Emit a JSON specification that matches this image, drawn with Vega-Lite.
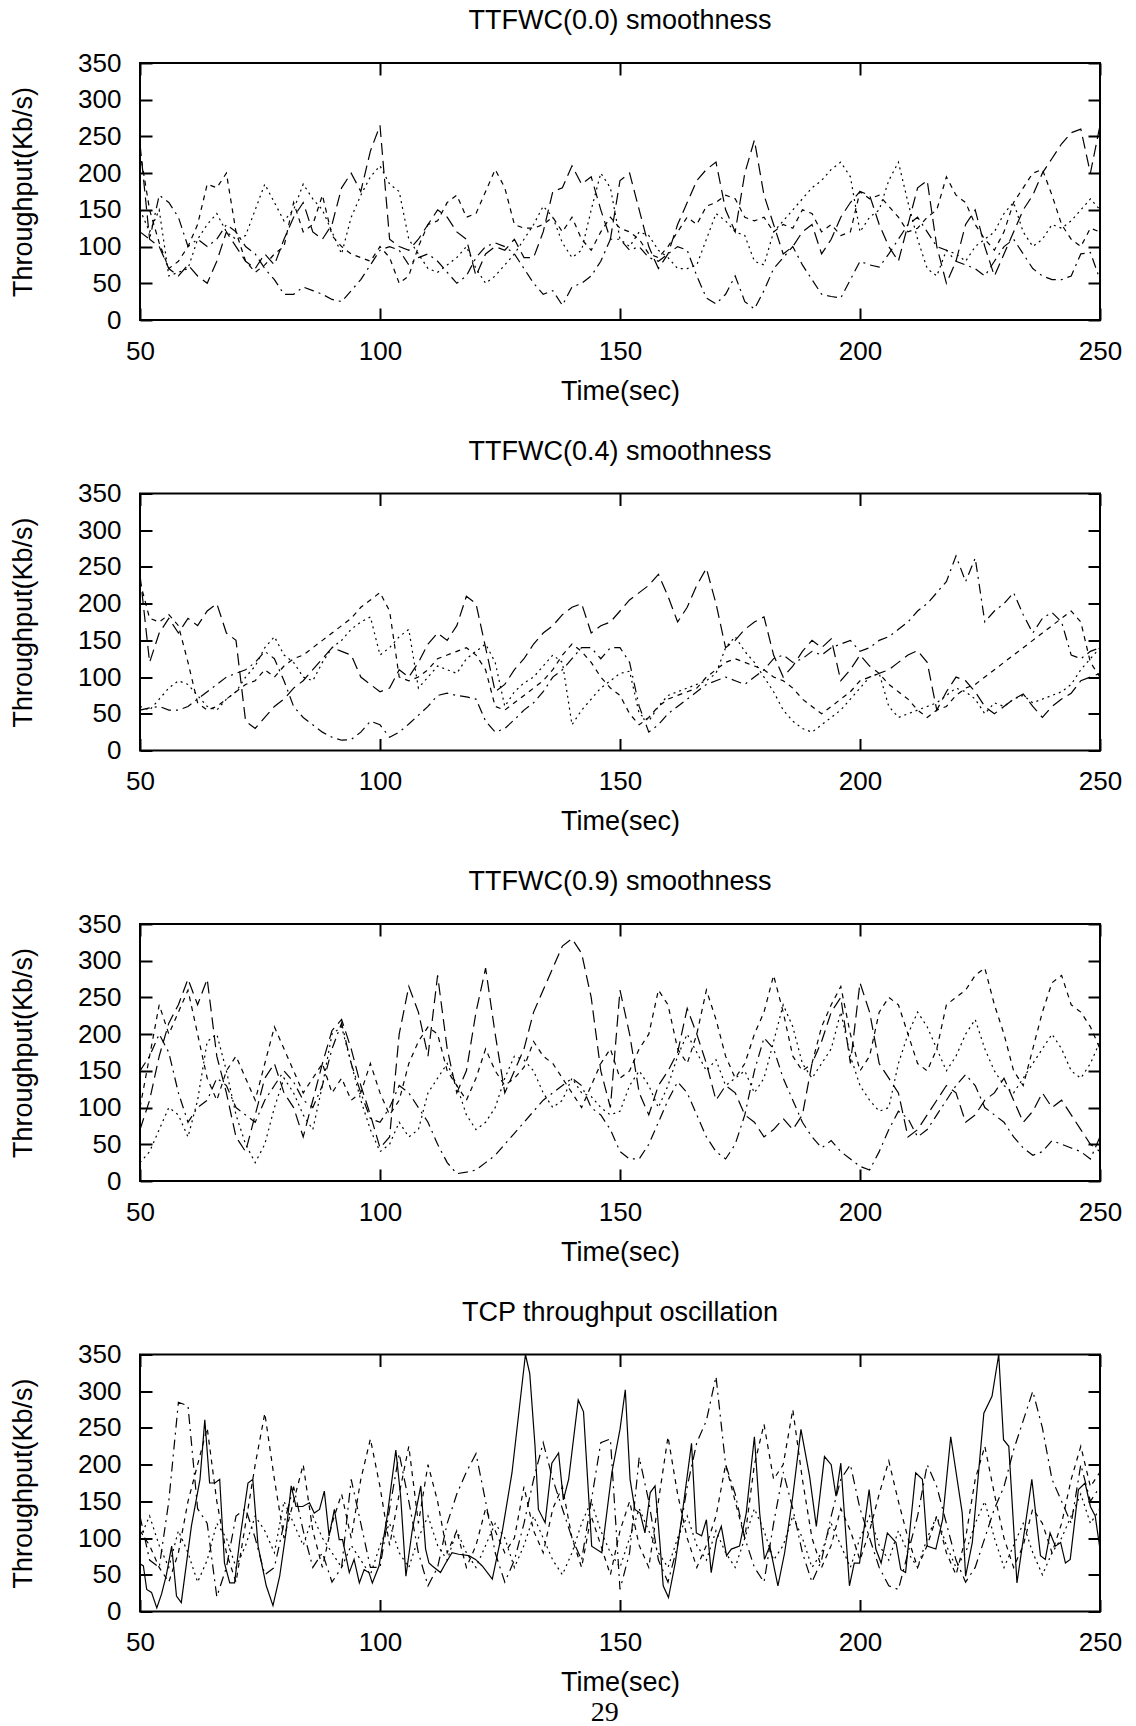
{
"$schema": "https://vega.github.io/schema/vega-lite/v6.json",
"padding": {"left": 8, "top": 6, "right": 0, "bottom": 12},
"background": "white",
"bounds": "flush",
"spacing": 173.5,
"title": {"text": "29", "orient": "bottom", "anchor": "middle", "font": "Liberation Serif", "fontSize": 28, "fontWeight": "normal", "baseline": "top", "offset": 2, "dx": 39, "color": "black"},
"config": {
  "view": {"stroke": "black", "strokeWidth": 2},
  "line": {"stroke": "black", "strokeWidth": 1.2},
  "title": {"font": "Liberation Sans", "fontSize": 27, "fontWeight": "normal", "color": "black", "anchor": "middle", "baseline": "alphabetic", "offset": 15},
  "axis": {"domain": false, "grid": false, "ticks": true, "tickSize": -12, "tickWidth": 2, "tickColor": "black", "labelFont": "Liberation Sans", "labelFontSize": 26, "labelColor": "black", "labelFlush": false, "titleFont": "Liberation Sans", "titleFontSize": 27, "titleFontWeight": "normal", "titleColor": "black"},
  "axisBottom": {"labelPadding": 30, "titlePadding": 14},
  "axisLeft": {"labelPadding": 31, "titlePadding": 40}
},
"datasets": {
"p1": [
{"t":50,"a":240,"b":150,"c":120,"d":230},{"t":52,"a":110,"b":120,"c":110,"d":150},{"t":54,"a":100,"b":150,"c":170,"d":105},{"t":56,"a":70,"b":60,"c":160,"d":70},{"t":58,"a":60,"b":65,"c":140,"d":80},
{"t":60,"a":75,"b":70,"c":100,"d":100},{"t":62,"a":60,"b":110,"c":110,"d":130},{"t":64,"a":50,"b":130,"c":100,"d":185},{"t":66,"a":80,"b":145,"c":110,"d":180},{"t":68,"a":120,"b":120,"c":130,"d":200},
{"t":70,"a":100,"b":110,"c":120,"d":120},{"t":72,"a":80,"b":115,"c":100,"d":80},{"t":74,"a":70,"b":150,"c":90,"d":65},{"t":76,"a":90,"b":185,"c":70,"d":75},{"t":78,"a":75,"b":160,"c":55,"d":90},
{"t":80,"a":110,"b":135,"c":35,"d":100},{"t":82,"a":140,"b":150,"c":35,"d":160},{"t":84,"a":160,"b":185,"c":45,"d":120},{"t":86,"a":120,"b":165,"c":40,"d":130},{"t":88,"a":110,"b":150,"c":35,"d":170},
{"t":90,"a":130,"b":120,"c":28,"d":115},{"t":92,"a":180,"b":90,"c":25,"d":100},{"t":94,"a":200,"b":140,"c":40,"d":90},{"t":96,"a":175,"b":170,"c":55,"d":85},{"t":98,"a":230,"b":195,"c":75,"d":80},
{"t":100,"a":265,"b":210,"c":95,"d":100},{"t":102,"a":110,"b":185,"c":100,"d":85},{"t":104,"a":100,"b":175,"c":95,"d":50},{"t":106,"a":95,"b":110,"c":75,"d":60},{"t":108,"a":110,"b":90,"c":85,"d":100},
{"t":110,"a":130,"b":70,"c":90,"d":130},{"t":112,"a":150,"b":65,"c":80,"d":135},{"t":114,"a":140,"b":75,"c":65,"d":160},{"t":116,"a":120,"b":85,"c":50,"d":170},{"t":118,"a":110,"b":100,"c":60,"d":140},
{"t":120,"a":60,"b":70,"c":85,"d":145},{"t":122,"a":90,"b":50,"c":100,"d":175},{"t":124,"a":100,"b":60,"c":105,"d":205},{"t":126,"a":95,"b":75,"c":100,"d":180},{"t":128,"a":110,"b":90,"c":90,"d":130},
{"t":130,"a":85,"b":110,"c":70,"d":125},{"t":132,"a":85,"b":130,"c":50,"d":125},{"t":134,"a":120,"b":155,"c":35,"d":130},{"t":136,"a":175,"b":140,"c":40,"d":140},{"t":138,"a":180,"b":105,"c":20,"d":120},
{"t":140,"a":210,"b":85,"c":45,"d":140},{"t":142,"a":185,"b":95,"c":50,"d":110},{"t":144,"a":195,"b":150,"c":60,"d":95},{"t":146,"a":150,"b":200,"c":80,"d":120},{"t":148,"a":110,"b":180,"c":110,"d":140},
{"t":150,"a":190,"b":110,"c":110,"d":125},{"t":152,"a":200,"b":100,"c":95,"d":120},{"t":154,"a":150,"b":120,"c":100,"d":110},{"t":156,"a":100,"b":115,"c":85,"d":90},{"t":158,"a":70,"b":95,"c":80,"d":85},
{"t":160,"a":90,"b":85,"c":90,"d":100},{"t":162,"a":130,"b":70,"c":100,"d":120},{"t":164,"a":160,"b":70,"c":95,"d":140},{"t":166,"a":190,"b":75,"c":60,"d":130},{"t":168,"a":205,"b":110,"c":30,"d":155},
{"t":170,"a":215,"b":145,"c":22,"d":160},{"t":172,"a":150,"b":135,"c":35,"d":170},{"t":174,"a":120,"b":120,"c":60,"d":165},{"t":176,"a":200,"b":115,"c":25,"d":140},{"t":178,"a":245,"b":80,"c":15,"d":135},
{"t":180,"a":170,"b":75,"c":40,"d":140},{"t":182,"a":130,"b":120,"c":70,"d":120},{"t":184,"a":90,"b":135,"c":85,"d":130},{"t":186,"a":100,"b":150,"c":100,"d":125},{"t":188,"a":120,"b":165,"c":75,"d":150},
{"t":190,"a":130,"b":180,"c":55,"d":145},{"t":192,"a":90,"b":190,"c":35,"d":120},{"t":194,"a":110,"b":205,"c":32,"d":130},{"t":196,"a":140,"b":215,"c":30,"d":115},{"t":198,"a":160,"b":195,"c":55,"d":120},
{"t":200,"a":175,"b":120,"c":80,"d":175},{"t":202,"a":170,"b":140,"c":75,"d":165},{"t":204,"a":130,"b":150,"c":72,"d":170},{"t":206,"a":100,"b":190,"c":90,"d":155},{"t":208,"a":80,"b":215,"c":110,"d":140},
{"t":210,"a":130,"b":160,"c":130,"d":120},{"t":212,"a":180,"b":110,"c":140,"d":125},{"t":214,"a":190,"b":70,"c":120,"d":140},{"t":216,"a":100,"b":60,"c":100,"d":150},{"t":218,"a":50,"b":95,"c":95,"d":195},
{"t":220,"a":80,"b":90,"c":80,"d":170},{"t":222,"a":130,"b":80,"c":75,"d":160},{"t":224,"a":150,"b":100,"c":70,"d":130},{"t":226,"a":100,"b":110,"c":60,"d":110},{"t":228,"a":60,"b":120,"c":80,"d":95},
{"t":230,"a":90,"b":145,"c":100,"d":120},{"t":232,"a":120,"b":160,"c":110,"d":160},{"t":234,"a":150,"b":120,"c":90,"d":180},{"t":236,"a":170,"b":100,"c":70,"d":200},{"t":238,"a":200,"b":110,"c":60,"d":205},
{"t":240,"a":220,"b":130,"c":55,"d":170},{"t":242,"a":240,"b":125,"c":55,"d":130},{"t":244,"a":255,"b":135,"c":60,"d":110},{"t":246,"a":260,"b":150,"c":90,"d":100},{"t":248,"a":200,"b":165,"c":92,"d":125},
{"t":250,"a":265,"b":150,"c":55,"d":120}
],
"p2": [
{"t":50,"a":240,"b":55,"c":60,"d":230},{"t":52,"a":120,"b":58,"c":55,"d":180},{"t":54,"a":160,"b":60,"c":70,"d":175},{"t":56,"a":180,"b":55,"c":85,"d":185},{"t":58,"a":160,"b":55,"c":95,"d":170},
{"t":60,"a":180,"b":60,"c":90,"d":120},{"t":62,"a":170,"b":70,"c":75,"d":65},{"t":64,"a":190,"b":80,"c":60,"d":55},{"t":66,"a":200,"b":90,"c":55,"d":60},{"t":68,"a":160,"b":100,"c":70,"d":70},
{"t":70,"a":150,"b":105,"c":80,"d":80},{"t":72,"a":40,"b":110,"c":100,"d":90},{"t":74,"a":30,"b":120,"c":115,"d":95},{"t":76,"a":45,"b":135,"c":140,"d":110},{"t":78,"a":60,"b":125,"c":155,"d":100},
{"t":80,"a":70,"b":95,"c":130,"d":115},{"t":82,"a":85,"b":60,"c":120,"d":125},{"t":84,"a":95,"b":45,"c":100,"d":130},{"t":86,"a":110,"b":35,"c":95,"d":140},{"t":88,"a":125,"b":25,"c":120,"d":150},
{"t":90,"a":140,"b":18,"c":140,"d":160},{"t":92,"a":135,"b":14,"c":150,"d":170},{"t":94,"a":130,"b":15,"c":165,"d":180},{"t":96,"a":100,"b":25,"c":175,"d":195},{"t":98,"a":90,"b":40,"c":182,"d":205},
{"t":100,"a":80,"b":35,"c":130,"d":215},{"t":102,"a":85,"b":18,"c":140,"d":190},{"t":104,"a":110,"b":25,"c":155,"d":100},{"t":106,"a":100,"b":36,"c":165,"d":95},{"t":108,"a":120,"b":48,"c":85,"d":100},
{"t":110,"a":145,"b":60,"c":100,"d":110},{"t":112,"a":160,"b":75,"c":115,"d":125},{"t":114,"a":150,"b":78,"c":110,"d":130},{"t":116,"a":170,"b":75,"c":105,"d":135},{"t":118,"a":210,"b":73,"c":125,"d":140},
{"t":120,"a":200,"b":70,"c":135,"d":130},{"t":122,"a":140,"b":40,"c":145,"d":110},{"t":124,"a":80,"b":25,"c":120,"d":60},{"t":126,"a":90,"b":30,"c":60,"d":55},{"t":128,"a":110,"b":42,"c":80,"d":65},
{"t":130,"a":125,"b":55,"c":92,"d":75},{"t":132,"a":145,"b":65,"c":100,"d":85},{"t":134,"a":160,"b":80,"c":115,"d":95},{"t":136,"a":170,"b":100,"c":130,"d":110},{"t":138,"a":185,"b":110,"c":120,"d":130},
{"t":140,"a":195,"b":125,"c":35,"d":145},{"t":142,"a":200,"b":140,"c":55,"d":135},{"t":144,"a":160,"b":140,"c":70,"d":120},{"t":146,"a":170,"b":125,"c":85,"d":100},{"t":148,"a":175,"b":140,"c":95,"d":85},
{"t":150,"a":190,"b":140,"c":105,"d":75},{"t":152,"a":205,"b":120,"c":108,"d":50},{"t":154,"a":215,"b":60,"c":50,"d":35},{"t":156,"a":225,"b":25,"c":40,"d":45},{"t":158,"a":240,"b":35,"c":60,"d":60},
{"t":160,"a":210,"b":50,"c":75,"d":70},{"t":162,"a":175,"b":60,"c":80,"d":75},{"t":164,"a":195,"b":70,"c":85,"d":80},{"t":166,"a":225,"b":80,"c":90,"d":85},{"t":168,"a":248,"b":90,"c":95,"d":100},
{"t":170,"a":200,"b":95,"c":105,"d":110},{"t":172,"a":140,"b":100,"c":140,"d":120},{"t":174,"a":150,"b":95,"c":155,"d":125},{"t":176,"a":165,"b":90,"c":135,"d":120},{"t":178,"a":175,"b":100,"c":120,"d":115},
{"t":180,"a":182,"b":110,"c":100,"d":110},{"t":182,"a":130,"b":125,"c":80,"d":100},{"t":184,"a":100,"b":130,"c":55,"d":95},{"t":186,"a":115,"b":120,"c":40,"d":85},{"t":188,"a":135,"b":125,"c":30,"d":70},
{"t":190,"a":150,"b":135,"c":25,"d":60},{"t":192,"a":140,"b":130,"c":35,"d":50},{"t":194,"a":152,"b":140,"c":45,"d":60},{"t":196,"a":95,"b":145,"c":55,"d":70},{"t":198,"a":110,"b":150,"c":70,"d":80},
{"t":200,"a":130,"b":135,"c":85,"d":95},{"t":202,"a":115,"b":140,"c":100,"d":100},{"t":204,"a":105,"b":150,"c":105,"d":105},{"t":206,"a":110,"b":155,"c":60,"d":90},{"t":208,"a":120,"b":165,"c":45,"d":80},
{"t":210,"a":130,"b":175,"c":50,"d":70},{"t":212,"a":136,"b":190,"c":55,"d":55},{"t":214,"a":120,"b":200,"c":60,"d":45},{"t":216,"a":55,"b":215,"c":65,"d":55},{"t":218,"a":80,"b":230,"c":75,"d":60},
{"t":220,"a":100,"b":265,"c":85,"d":75},{"t":222,"a":95,"b":230,"c":80,"d":85},{"t":224,"a":80,"b":262,"c":70,"d":90},{"t":226,"a":60,"b":175,"c":50,"d":100},{"t":228,"a":50,"b":190,"c":65,"d":110},
{"t":230,"a":60,"b":200,"c":60,"d":120},{"t":232,"a":70,"b":215,"c":70,"d":130},{"t":234,"a":77,"b":185,"c":75,"d":140},{"t":236,"a":60,"b":160,"c":65,"d":150},{"t":238,"a":45,"b":180,"c":70,"d":160},
{"t":240,"a":60,"b":188,"c":75,"d":170},{"t":242,"a":70,"b":175,"c":80,"d":180},{"t":244,"a":78,"b":130,"c":90,"d":190},{"t":246,"a":95,"b":125,"c":110,"d":175},{"t":248,"a":100,"b":135,"c":125,"d":120},
{"t":250,"a":105,"b":140,"c":140,"d":100}
],
"p3": [
{"t":50,"a":70,"b":150,"c":25,"d":100},{"t":52,"a":110,"b":170,"c":40,"d":170},{"t":54,"a":170,"b":200,"c":70,"d":240},{"t":56,"a":215,"b":175,"c":100,"d":200},{"t":58,"a":240,"b":120,"c":90,"d":230},
{"t":60,"a":275,"b":80,"c":60,"d":260},{"t":62,"a":240,"b":100,"c":110,"d":200},{"t":64,"a":275,"b":110,"c":190,"d":140},{"t":66,"a":170,"b":140,"c":200,"d":110},{"t":68,"a":120,"b":130,"c":150,"d":150},
{"t":70,"a":60,"b":100,"c":90,"d":170},{"t":72,"a":40,"b":90,"c":50,"d":140},{"t":74,"a":90,"b":80,"c":25,"d":110},{"t":76,"a":140,"b":110,"c":50,"d":160},{"t":78,"a":160,"b":130,"c":100,"d":210},
{"t":80,"a":120,"b":150,"c":140,"d":180},{"t":82,"a":100,"b":135,"c":120,"d":150},{"t":84,"a":60,"b":110,"c":90,"d":120},{"t":86,"a":110,"b":100,"c":70,"d":140},{"t":88,"a":160,"b":130,"c":130,"d":160},
{"t":90,"a":205,"b":180,"c":200,"d":120},{"t":92,"a":220,"b":215,"c":210,"d":140},{"t":94,"a":180,"b":160,"c":160,"d":110},{"t":96,"a":130,"b":120,"c":110,"d":120},{"t":98,"a":90,"b":85,"c":70,"d":160},
{"t":100,"a":45,"b":80,"c":40,"d":120},{"t":102,"a":60,"b":100,"c":50,"d":90},{"t":104,"a":200,"b":130,"c":80,"d":110},{"t":106,"a":265,"b":120,"c":60,"d":160},{"t":108,"a":230,"b":100,"c":70,"d":190},
{"t":110,"a":170,"b":80,"c":120,"d":210},{"t":112,"a":280,"b":50,"c":140,"d":200},{"t":114,"a":180,"b":25,"c":160,"d":150},{"t":116,"a":120,"b":10,"c":130,"d":130},{"t":118,"a":150,"b":12,"c":90,"d":110},
{"t":120,"a":230,"b":15,"c":70,"d":140},{"t":122,"a":290,"b":25,"c":80,"d":180},{"t":124,"a":200,"b":35,"c":100,"d":150},{"t":126,"a":120,"b":50,"c":140,"d":130},{"t":128,"a":150,"b":65,"c":170,"d":140},
{"t":130,"a":180,"b":80,"c":165,"d":155},{"t":132,"a":230,"b":95,"c":150,"d":190},{"t":134,"a":260,"b":110,"c":120,"d":170},{"t":136,"a":290,"b":120,"c":100,"d":160},{"t":138,"a":320,"b":130,"c":110,"d":140},
{"t":140,"a":330,"b":140,"c":140,"d":120},{"t":142,"a":310,"b":130,"c":120,"d":100},{"t":144,"a":250,"b":100,"c":115,"d":130},{"t":146,"a":150,"b":90,"c":100,"d":160},{"t":148,"a":100,"b":70,"c":90,"d":180},
{"t":150,"a":260,"b":40,"c":95,"d":140},{"t":152,"a":200,"b":30,"c":130,"d":150},{"t":154,"a":120,"b":30,"c":150,"d":180},{"t":156,"a":90,"b":50,"c":130,"d":200},{"t":158,"a":130,"b":80,"c":100,"d":260},
{"t":160,"a":150,"b":110,"c":130,"d":240},{"t":162,"a":175,"b":135,"c":170,"d":180},{"t":164,"a":235,"b":120,"c":200,"d":160},{"t":166,"a":200,"b":90,"c":175,"d":200},{"t":168,"a":160,"b":60,"c":150,"d":260},
{"t":170,"a":110,"b":40,"c":165,"d":220},{"t":172,"a":130,"b":30,"c":130,"d":170},{"t":174,"a":120,"b":50,"c":140,"d":140},{"t":176,"a":90,"b":90,"c":150,"d":160},{"t":178,"a":80,"b":150,"c":120,"d":200},
{"t":180,"a":60,"b":195,"c":140,"d":230},{"t":182,"a":70,"b":180,"c":190,"d":280},{"t":184,"a":85,"b":140,"c":240,"d":230},{"t":186,"a":70,"b":110,"c":210,"d":170},{"t":188,"a":90,"b":80,"c":160,"d":150},
{"t":190,"a":160,"b":60,"c":140,"d":160},{"t":192,"a":190,"b":45,"c":160,"d":210},{"t":194,"a":230,"b":55,"c":180,"d":240},{"t":196,"a":250,"b":40,"c":230,"d":265},{"t":198,"a":160,"b":30,"c":170,"d":200},
{"t":200,"a":270,"b":20,"c":130,"d":150},{"t":202,"a":230,"b":15,"c":110,"d":170},{"t":204,"a":160,"b":40,"c":95,"d":230},{"t":206,"a":140,"b":70,"c":100,"d":250},{"t":208,"a":120,"b":95,"c":160,"d":240},
{"t":210,"a":60,"b":85,"c":200,"d":200},{"t":212,"a":70,"b":60,"c":230,"d":160},{"t":214,"a":90,"b":70,"c":210,"d":150},{"t":216,"a":110,"b":90,"c":180,"d":180},{"t":218,"a":130,"b":110,"c":150,"d":240},
{"t":220,"a":120,"b":130,"c":170,"d":250},{"t":222,"a":80,"b":145,"c":200,"d":260},{"t":224,"a":90,"b":130,"c":220,"d":280},{"t":226,"a":110,"b":100,"c":180,"d":290},{"t":228,"a":120,"b":90,"c":150,"d":240},
{"t":230,"a":140,"b":80,"c":130,"d":200},{"t":232,"a":110,"b":60,"c":120,"d":150},{"t":234,"a":80,"b":45,"c":140,"d":130},{"t":236,"a":95,"b":35,"c":160,"d":180},{"t":238,"a":120,"b":40,"c":180,"d":230},
{"t":240,"a":100,"b":55,"c":200,"d":270},{"t":242,"a":110,"b":50,"c":180,"d":280},{"t":244,"a":90,"b":45,"c":150,"d":240},{"t":246,"a":70,"b":40,"c":140,"d":230},{"t":248,"a":50,"b":30,"c":160,"d":210},
{"t":250,"a":40,"b":60,"c":190,"d":180}
],
"p4": [
{"t":50,"e":130,"f":110,"g":100},{"t":52,"e":70,"f":90,"g":130},{"t":54,"e":60,"f":60,"g":90},{"t":56,"e":150,"f":40,"g":60},{"t":58,"e":285,"f":80,"g":110},
{"t":60,"e":280,"f":150,"g":80},{"t":62,"e":140,"f":200,"g":40},{"t":64,"e":120,"f":250,"g":70},{"t":66,"e":20,"f":150,"g":120},{"t":68,"e":60,"f":80,"g":100},
{"t":70,"e":130,"f":40,"g":60},{"t":72,"e":140,"f":120,"g":90},{"t":74,"e":100,"f":200,"g":130},{"t":76,"e":50,"f":270,"g":110},{"t":78,"e":60,"f":180,"g":80},
{"t":80,"e":120,"f":100,"g":150},{"t":82,"e":170,"f":150,"g":120},{"t":84,"e":110,"f":200,"g":90},{"t":86,"e":60,"f":110,"g":130},{"t":88,"e":80,"f":60,"g":100},
{"t":90,"e":40,"f":120,"g":80},{"t":92,"e":60,"f":160,"g":60},{"t":94,"e":180,"f":100,"g":90},{"t":96,"e":120,"f":180,"g":70},{"t":98,"e":60,"f":235,"g":50},
{"t":100,"e":60,"f":170,"g":90},{"t":102,"e":140,"f":90,"g":120},{"t":104,"e":215,"f":160,"g":80},{"t":106,"e":150,"f":225,"g":60},{"t":108,"e":80,"f":120,"g":100},
{"t":110,"e":35,"f":200,"g":130},{"t":112,"e":60,"f":150,"g":90},{"t":114,"e":120,"f":80,"g":70},{"t":116,"e":160,"f":110,"g":110},{"t":118,"e":190,"f":60,"g":80},
{"t":120,"e":215,"f":90,"g":60},{"t":122,"e":150,"f":140,"g":90},{"t":124,"e":80,"f":110,"g":120},{"t":126,"e":40,"f":80,"g":100},{"t":128,"e":70,"f":100,"g":60},
{"t":130,"e":120,"f":170,"g":90},{"t":132,"e":180,"f":110,"g":130},{"t":134,"e":230,"f":80,"g":100},{"t":136,"e":180,"f":140,"g":70},{"t":138,"e":140,"f":170,"g":50},
{"t":140,"e":100,"f":100,"g":80},{"t":142,"e":70,"f":60,"g":120},{"t":144,"e":150,"f":130,"g":150},{"t":146,"e":230,"f":90,"g":110},{"t":148,"e":235,"f":50,"g":80},
{"t":150,"e":30,"f":110,"g":60},{"t":152,"e":80,"f":150,"g":100},{"t":154,"e":210,"f":90,"g":140},{"t":156,"e":150,"f":60,"g":110},{"t":158,"e":70,"f":150,"g":80},
{"t":160,"e":40,"f":238,"g":60},{"t":162,"e":90,"f":160,"g":100},{"t":164,"e":170,"f":100,"g":130},{"t":166,"e":230,"f":60,"g":90},{"t":168,"e":260,"f":90,"g":70},
{"t":170,"e":320,"f":130,"g":110},{"t":172,"e":200,"f":200,"g":80},{"t":174,"e":160,"f":150,"g":60},{"t":176,"e":100,"f":100,"g":100},{"t":178,"e":60,"f":200,"g":140},
{"t":180,"e":40,"f":255,"g":110},{"t":182,"e":120,"f":180,"g":70},{"t":184,"e":190,"f":200,"g":90},{"t":186,"e":140,"f":275,"g":130},{"t":188,"e":80,"f":180,"g":100},
{"t":190,"e":40,"f":100,"g":60},{"t":192,"e":70,"f":60,"g":80},{"t":194,"e":130,"f":90,"g":120},{"t":196,"e":180,"f":140,"g":90},{"t":198,"e":200,"f":110,"g":60},
{"t":200,"e":140,"f":70,"g":100},{"t":202,"e":100,"f":110,"g":130},{"t":204,"e":60,"f":160,"g":90},{"t":206,"e":35,"f":205,"g":70},{"t":208,"e":30,"f":150,"g":110},
{"t":210,"e":80,"f":100,"g":80},{"t":212,"e":130,"f":60,"g":60},{"t":214,"e":200,"f":90,"g":100},{"t":216,"e":170,"f":130,"g":130},{"t":218,"e":120,"f":80,"g":90},
{"t":220,"e":70,"f":50,"g":60},{"t":222,"e":40,"f":100,"g":80},{"t":224,"e":60,"f":180,"g":120},{"t":226,"e":100,"f":225,"g":150},{"t":228,"e":140,"f":160,"g":100},
{"t":230,"e":170,"f":100,"g":60},{"t":232,"e":220,"f":60,"g":90},{"t":234,"e":260,"f":90,"g":120},{"t":236,"e":300,"f":140,"g":80},{"t":238,"e":250,"f":120,"g":50},
{"t":240,"e":180,"f":80,"g":80},{"t":242,"e":150,"f":120,"g":100},{"t":244,"e":120,"f":180,"g":130},{"t":246,"e":200,"f":225,"g":160},{"t":248,"e":150,"f":170,"g":120},
{"t":250,"e":170,"f":190,"g":140}
],
"p4s": [
{"t":50,"v":65},{"t":50.7,"v":62},{"t":51.4,"v":30},{"t":52.4,"v":26},{"t":53.5,"v":5},{"t":54.5,"v":24},{"t":55.5,"v":50},{"t":56.6,"v":89},{"t":57.6,"v":21},{"t":58.6,"v":12},
{"t":60.7,"v":116},{"t":62.5,"v":180},{"t":63.5,"v":261},{"t":64.5,"v":175},{"t":65.6,"v":175},{"t":66.6,"v":180},{"t":67.6,"v":66},{"t":68.7,"v":39},{"t":69.7,"v":39},{"t":70.8,"v":98},
{"t":72.5,"v":175},{"t":73.5,"v":180},{"t":74.6,"v":89},{"t":76.3,"v":35},{"t":77.7,"v":8},{"t":79.1,"v":48},{"t":80.4,"v":107},{"t":81.5,"v":171},{"t":82.5,"v":143},{"t":83.9,"v":143},
{"t":85.3,"v":148},{"t":86.3,"v":134},{"t":87.4,"v":139},{"t":88.4,"v":164},{"t":89.4,"v":103},{"t":90.5,"v":139},{"t":91.5,"v":98},{"t":92.2,"v":98},{"t":93.6,"v":53},{"t":94.6,"v":71},
{"t":95.7,"v":39},{"t":96.7,"v":57},{"t":97.7,"v":53},{"t":98.4,"v":39},{"t":99.8,"v":62},{"t":101.5,"v":130},{"t":103.3,"v":220},{"t":104.3,"v":157},{"t":105.4,"v":48},{"t":106.7,"v":110},
{"t":108.5,"v":171},{"t":109.5,"v":85},{"t":110.2,"v":66},{"t":110.9,"v":62},{"t":112.6,"v":53},{"t":113.7,"v":66},{"t":115,"v":80},{"t":116.4,"v":78},{"t":118.5,"v":76},{"t":119.9,"v":71},
{"t":121.3,"v":62},{"t":123.4,"v":44},{"t":125.5,"v":110},{"t":127.5,"v":189},{"t":130.3,"v":350},{"t":131.2,"v":324},{"t":132.3,"v":225},{"t":133,"v":139},{"t":134.4,"v":121},{"t":135.8,"v":202},
{"t":137.2,"v":216},{"t":138.2,"v":152},{"t":139.3,"v":180},{"t":141.3,"v":288},{"t":142.4,"v":272},{"t":144.1,"v":89},{"t":146.2,"v":80},{"t":148.3,"v":189},{"t":150,"v":248},{"t":151.1,"v":302},
{"t":152.1,"v":180},{"t":153.1,"v":139},{"t":154.2,"v":134},{"t":155.2,"v":107},{"t":156.3,"v":162},{"t":157.3,"v":171},{"t":158.3,"v":94},{"t":159,"v":35},{"t":160.1,"v":19},{"t":161.5,"v":66},
{"t":162.8,"v":125},{"t":164.9,"v":229},{"t":165.9,"v":107},{"t":167,"v":103},{"t":168,"v":125},{"t":169,"v":53},{"t":170.1,"v":98},{"t":171.1,"v":116},{"t":172.2,"v":76},{"t":173.2,"v":85},
{"t":174.9,"v":89},{"t":176.3,"v":134},{"t":178,"v":238},{"t":179.1,"v":134},{"t":180.1,"v":71},{"t":181.2,"v":89},{"t":182.9,"v":35},{"t":184.3,"v":80},{"t":186,"v":157},{"t":187.7,"v":248},
{"t":189.5,"v":184},{"t":190.9,"v":116},{"t":192.6,"v":211},{"t":194,"v":200},{"t":195,"v":157},{"t":196,"v":202},{"t":197.8,"v":35},{"t":198.8,"v":66},{"t":199.9,"v":66},{"t":201.9,"v":166},
{"t":203.3,"v":85},{"t":204.4,"v":66},{"t":205.7,"v":107},{"t":207.5,"v":94},{"t":208.5,"v":57},{"t":209.5,"v":53},{"t":211.6,"v":189},{"t":213,"v":180},{"t":214,"v":89},{"t":215.8,"v":85},
{"t":217.2,"v":125},{"t":218.9,"v":238},{"t":221.3,"v":134},{"t":222,"v":48},{"t":223.4,"v":94},{"t":225.8,"v":270},{"t":227.5,"v":293},{"t":228.9,"v":350},{"t":229.9,"v":234},{"t":231,"v":225},
{"t":232.7,"v":39},{"t":234.4,"v":116},{"t":235.8,"v":180},{"t":237.6,"v":76},{"t":238.6,"v":71},{"t":239.6,"v":107},{"t":240.7,"v":89},{"t":241.8,"v":94},{"t":242.8,"v":66},{"t":243.8,"v":71},
{"t":245.5,"v":166},{"t":246.9,"v":175},{"t":248,"v":143},{"t":249,"v":130},{"t":250,"v":85}
]
},
"vconcat": [
{
 "width": 960, "height": 257,
 "title": "TTFWC(0.0) smoothness",
 "data": {"name": "p1"},
 "layer": [
  {"mark": {"type": "line", "strokeDash": [12, 6]}, "encoding": {
    "x": {"field": "t", "type": "quantitative", "scale": {"domain": [50, 250], "nice": false, "zero": false}, "axis": {"orient": "bottom", "title": "Time(sec)", "values": [50, 100, 150, 200, 250]}},
    "y": {"field": "a", "type": "quantitative", "scale": {"domain": [0, 350], "nice": false}, "axis": {"orient": "left", "title": "Throughput(Kb/s)", "values": [0, 50, 100, 150, 200, 250, 300, 350]}}}},
  {"mark": {"type": "line", "strokeDash": [2, 4]}, "encoding": {"x": {"field": "t", "type": "quantitative", "axis": null}, "y": {"field": "b", "type": "quantitative", "axis": null}}},
  {"mark": {"type": "line", "strokeDash": [10, 5, 2, 5]}, "encoding": {"x": {"field": "t", "type": "quantitative", "axis": null}, "y": {"field": "c", "type": "quantitative", "axis": null}}},
  {"mark": {"type": "line", "strokeDash": [5, 5]}, "encoding": {"x": {"field": "t", "type": "quantitative", "axis": null}, "y": {"field": "d", "type": "quantitative", "axis": null}}},
  {"mark": {"type": "line", "strokeOpacity": 0}, "encoding": {
    "x": {"field": "t", "type": "quantitative", "axis": {"orient": "top", "labels": false, "title": null, "values": [50, 100, 150, 200, 250]}},
    "y": {"field": "a", "type": "quantitative", "axis": {"orient": "right", "labels": false, "title": null, "values": [0, 50, 100, 150, 200, 250, 300, 350]}}}}
 ],
 "resolve": {"axis": {"x": "independent", "y": "independent"}}
},
{
 "width": 960, "height": 257,
 "title": "TTFWC(0.4) smoothness",
 "data": {"name": "p2"},
 "layer": [
  {"mark": {"type": "line", "strokeDash": [12, 6]}, "encoding": {
    "x": {"field": "t", "type": "quantitative", "scale": {"domain": [50, 250], "nice": false, "zero": false}, "axis": {"orient": "bottom", "title": "Time(sec)", "values": [50, 100, 150, 200, 250]}},
    "y": {"field": "a", "type": "quantitative", "scale": {"domain": [0, 350], "nice": false}, "axis": {"orient": "left", "title": "Throughput(Kb/s)", "values": [0, 50, 100, 150, 200, 250, 300, 350]}}}},
  {"mark": {"type": "line", "strokeDash": [10, 5, 2, 5]}, "encoding": {"x": {"field": "t", "type": "quantitative", "axis": null}, "y": {"field": "b", "type": "quantitative", "axis": null}}},
  {"mark": {"type": "line", "strokeDash": [2, 4]}, "encoding": {"x": {"field": "t", "type": "quantitative", "axis": null}, "y": {"field": "c", "type": "quantitative", "axis": null}}},
  {"mark": {"type": "line", "strokeDash": [5, 5]}, "encoding": {"x": {"field": "t", "type": "quantitative", "axis": null}, "y": {"field": "d", "type": "quantitative", "axis": null}}},
  {"mark": {"type": "line", "strokeOpacity": 0}, "encoding": {
    "x": {"field": "t", "type": "quantitative", "axis": {"orient": "top", "labels": false, "title": null, "values": [50, 100, 150, 200, 250]}},
    "y": {"field": "a", "type": "quantitative", "axis": {"orient": "right", "labels": false, "title": null, "values": [0, 50, 100, 150, 200, 250, 300, 350]}}}}
 ],
 "resolve": {"axis": {"x": "independent", "y": "independent"}}
},
{
 "width": 960, "height": 257,
 "title": "TTFWC(0.9) smoothness",
 "data": {"name": "p3"},
 "layer": [
  {"mark": {"type": "line", "strokeDash": [12, 6]}, "encoding": {
    "x": {"field": "t", "type": "quantitative", "scale": {"domain": [50, 250], "nice": false, "zero": false}, "axis": {"orient": "bottom", "title": "Time(sec)", "values": [50, 100, 150, 200, 250]}},
    "y": {"field": "a", "type": "quantitative", "scale": {"domain": [0, 350], "nice": false}, "axis": {"orient": "left", "title": "Throughput(Kb/s)", "values": [0, 50, 100, 150, 200, 250, 300, 350]}}}},
  {"mark": {"type": "line", "strokeDash": [10, 5, 2, 5]}, "encoding": {"x": {"field": "t", "type": "quantitative", "axis": null}, "y": {"field": "b", "type": "quantitative", "axis": null}}},
  {"mark": {"type": "line", "strokeDash": [2, 4]}, "encoding": {"x": {"field": "t", "type": "quantitative", "axis": null}, "y": {"field": "c", "type": "quantitative", "axis": null}}},
  {"mark": {"type": "line", "strokeDash": [5, 5]}, "encoding": {"x": {"field": "t", "type": "quantitative", "axis": null}, "y": {"field": "d", "type": "quantitative", "axis": null}}},
  {"mark": {"type": "line", "strokeOpacity": 0}, "encoding": {
    "x": {"field": "t", "type": "quantitative", "axis": {"orient": "top", "labels": false, "title": null, "values": [50, 100, 150, 200, 250]}},
    "y": {"field": "a", "type": "quantitative", "axis": {"orient": "right", "labels": false, "title": null, "values": [0, 50, 100, 150, 200, 250, 300, 350]}}}}
 ],
 "resolve": {"axis": {"x": "independent", "y": "independent"}}
},
{
 "width": 960, "height": 257,
 "title": "TCP throughput oscillation",
 "layer": [
  {"data": {"name": "p4s"}, "mark": {"type": "line"}, "encoding": {
    "x": {"field": "t", "type": "quantitative", "scale": {"domain": [50, 250], "nice": false, "zero": false}, "axis": {"orient": "bottom", "title": "Time(sec)", "values": [50, 100, 150, 200, 250]}},
    "y": {"field": "v", "type": "quantitative", "scale": {"domain": [0, 350], "nice": false}, "axis": {"orient": "left", "title": "Throughput(Kb/s)", "values": [0, 50, 100, 150, 200, 250, 300, 350]}}}},
  {"data": {"name": "p4"}, "mark": {"type": "line", "strokeDash": [10, 5, 2, 5]}, "encoding": {"x": {"field": "t", "type": "quantitative", "axis": null}, "y": {"field": "e", "type": "quantitative", "axis": null}}},
  {"data": {"name": "p4"}, "mark": {"type": "line", "strokeDash": [5, 5]}, "encoding": {"x": {"field": "t", "type": "quantitative", "axis": null}, "y": {"field": "f", "type": "quantitative", "axis": null}}},
  {"data": {"name": "p4"}, "mark": {"type": "line", "strokeDash": [2, 4]}, "encoding": {"x": {"field": "t", "type": "quantitative", "axis": null}, "y": {"field": "g", "type": "quantitative", "axis": null}}},
  {"data": {"name": "p4"}, "mark": {"type": "line", "strokeOpacity": 0}, "encoding": {
    "x": {"field": "t", "type": "quantitative", "axis": {"orient": "top", "labels": false, "title": null, "values": [50, 100, 150, 200, 250]}},
    "y": {"field": "e", "type": "quantitative", "axis": {"orient": "right", "labels": false, "title": null, "values": [0, 50, 100, 150, 200, 250, 300, 350]}}}}
 ],
 "resolve": {"axis": {"x": "independent", "y": "independent"}}
}
]
}
